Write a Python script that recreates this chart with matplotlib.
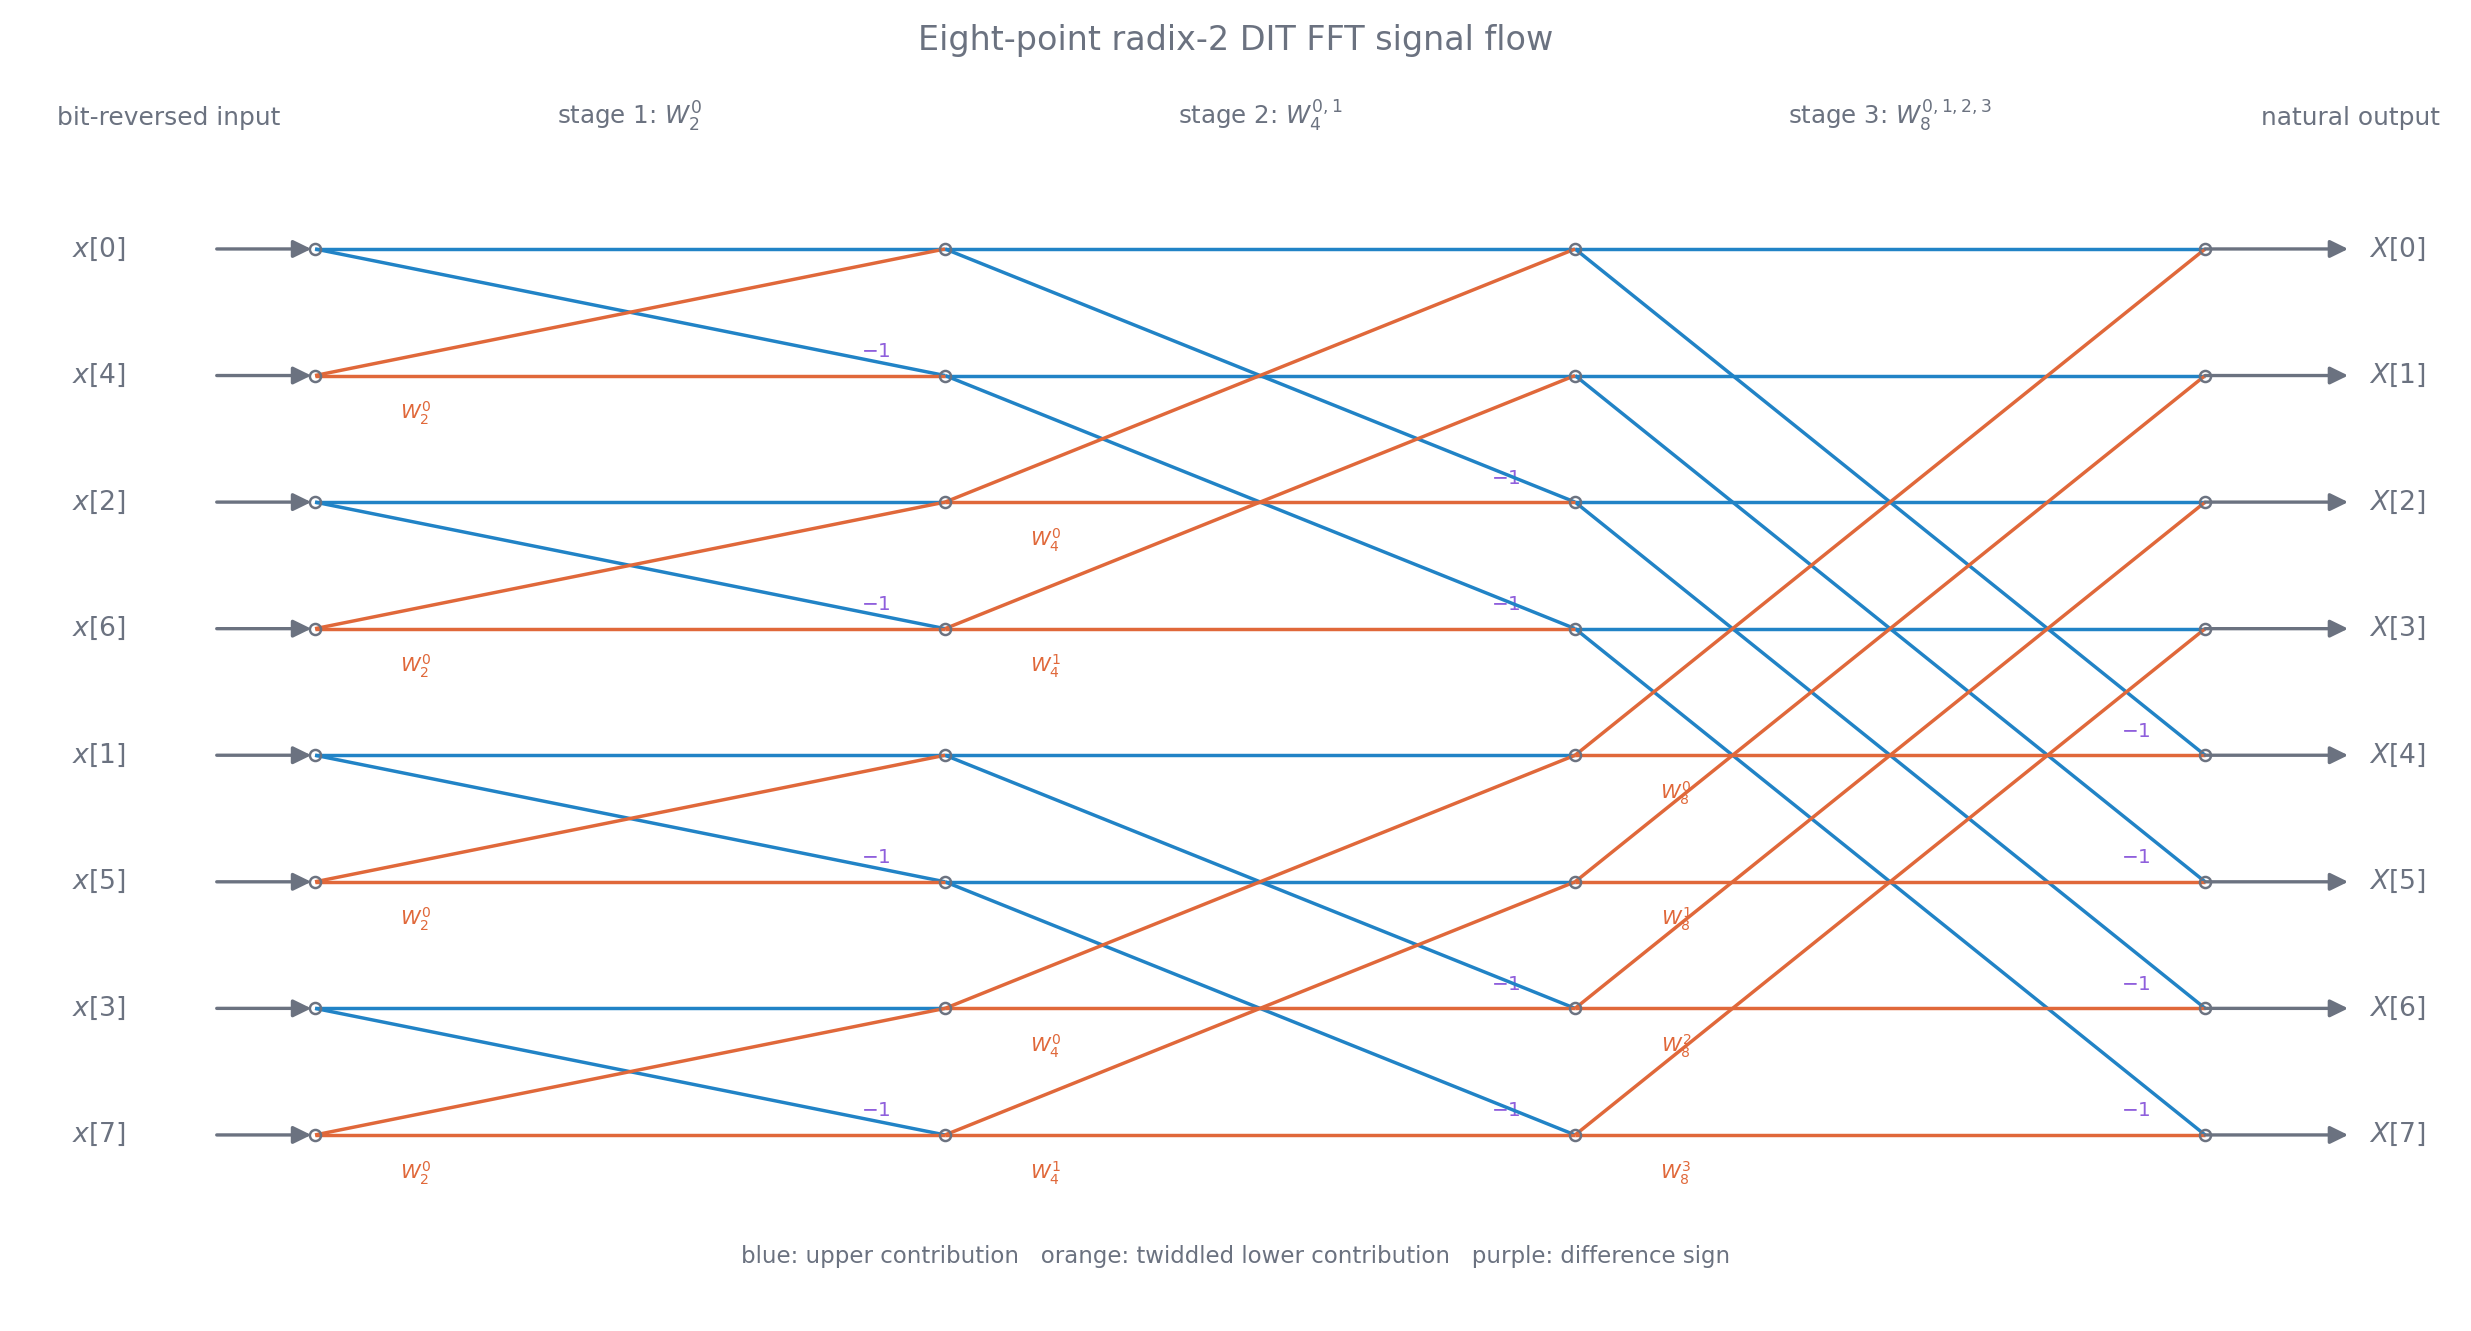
import matplotlib.pyplot as plt

BLUE = "#2183c6"
ORANGE = "#e0683a"
PURPLE = "#8f5fdc"
GREY = "#6b7280"

N = 8
input_order = [0, 4, 2, 6, 1, 5, 3, 7]
input_labels = [f"$x[{k}]$" for k in input_order]
output_labels = [f"$X[{k}]$" for k in range(N)]
stage_headers = ["stage 1: $W_2^0$", "stage 2: $W_4^{0,1}$", "stage 3: $W_8^{0,1,2,3}$"]
side_headers = ["bit-reversed input", "natural output"]
title = "Eight-point radix-2 DIT FFT signal flow"
footer = "blue: upper contribution   orange: twiddled lower contribution   purple: difference sign"

DPI = 160
fig = plt.figure(figsize=(2471 / DPI, 1331 / DPI), dpi=DPI)
ax = fig.add_axes([0, 0, 1, 1])
ax.set_xlim(-0.5, 3.422)
ax.set_ylim(8.549, -1.967)
ax.axis("off")

lw = 1.55
for s in range(3):
    h = 2 ** s
    for g in range(0, N, 2 * h):
        for j in range(h):
            top, bot = g + j, g + j + h
            ax.plot([s, s + 1], [top, top], color=BLUE, lw=lw, zorder=2, solid_capstyle="butt")
            ax.plot([s, s + 1], [top, bot], color=BLUE, lw=lw, zorder=2, solid_capstyle="butt")
            ax.plot([s, s + 1], [bot, top], color=ORANGE, lw=lw, zorder=3, solid_capstyle="butt")
            ax.plot([s, s + 1], [bot, bot], color=ORANGE, lw=lw, zorder=3, solid_capstyle="butt")
            ax.text(s + 0.16, bot + 0.3, f"$W_{{{2 * h}}}^{{{j}}}$", color=ORANGE,
                    fontsize=9, ha="center", va="center", zorder=1.5)
            ax.text(s + 0.89, bot - 0.19, "$-1$", color=PURPLE,
                    fontsize=9, ha="center", va="center", zorder=1.5)

# nodes
for s in range(4):
    ax.plot([s] * N, range(N), "o", ms=5.0, mfc="none", mec=GREY, mew=1.1,
            ls="none", zorder=5)

arrow = dict(arrowstyle="-|>,head_length=0.45,head_width=0.22", color=GREY, lw=1.5,
             mutation_scale=15, shrinkA=0, shrinkB=0)
for r in range(N):
    ax.annotate("", xy=(-0.006, r), xytext=(-0.156, r), arrowprops=arrow, zorder=4)
    ax.annotate("", xy=(3.227, r), xytext=(3.0, r), arrowprops=arrow, zorder=4)
    ax.text(-0.343, r, input_labels[r], color=GREY, fontsize=12, ha="center", va="center")
    ax.text(3.26, r, output_labels[r], color=GREY, fontsize=12, ha="left", va="center")

fig.text(0.5, 0.9625, title, color=GREY, fontsize=15, ha="center", va="baseline")
for s, lab in enumerate(stage_headers):
    ax.text(s + 0.5, -0.98, lab, color=GREY, fontsize=11, ha="center", va="baseline")
ax.text(-0.232, -0.98, side_headers[0], color=GREY, fontsize=11.2, ha="center", va="baseline")
ax.text(3.23, -0.98, side_headers[1], color=GREY, fontsize=11.2, ha="center", va="baseline")
fig.text(0.5, 0.056, footer, color=GREY, fontsize=10.3, ha="center", va="center")

fig.savefig("out.png", dpi=DPI)
